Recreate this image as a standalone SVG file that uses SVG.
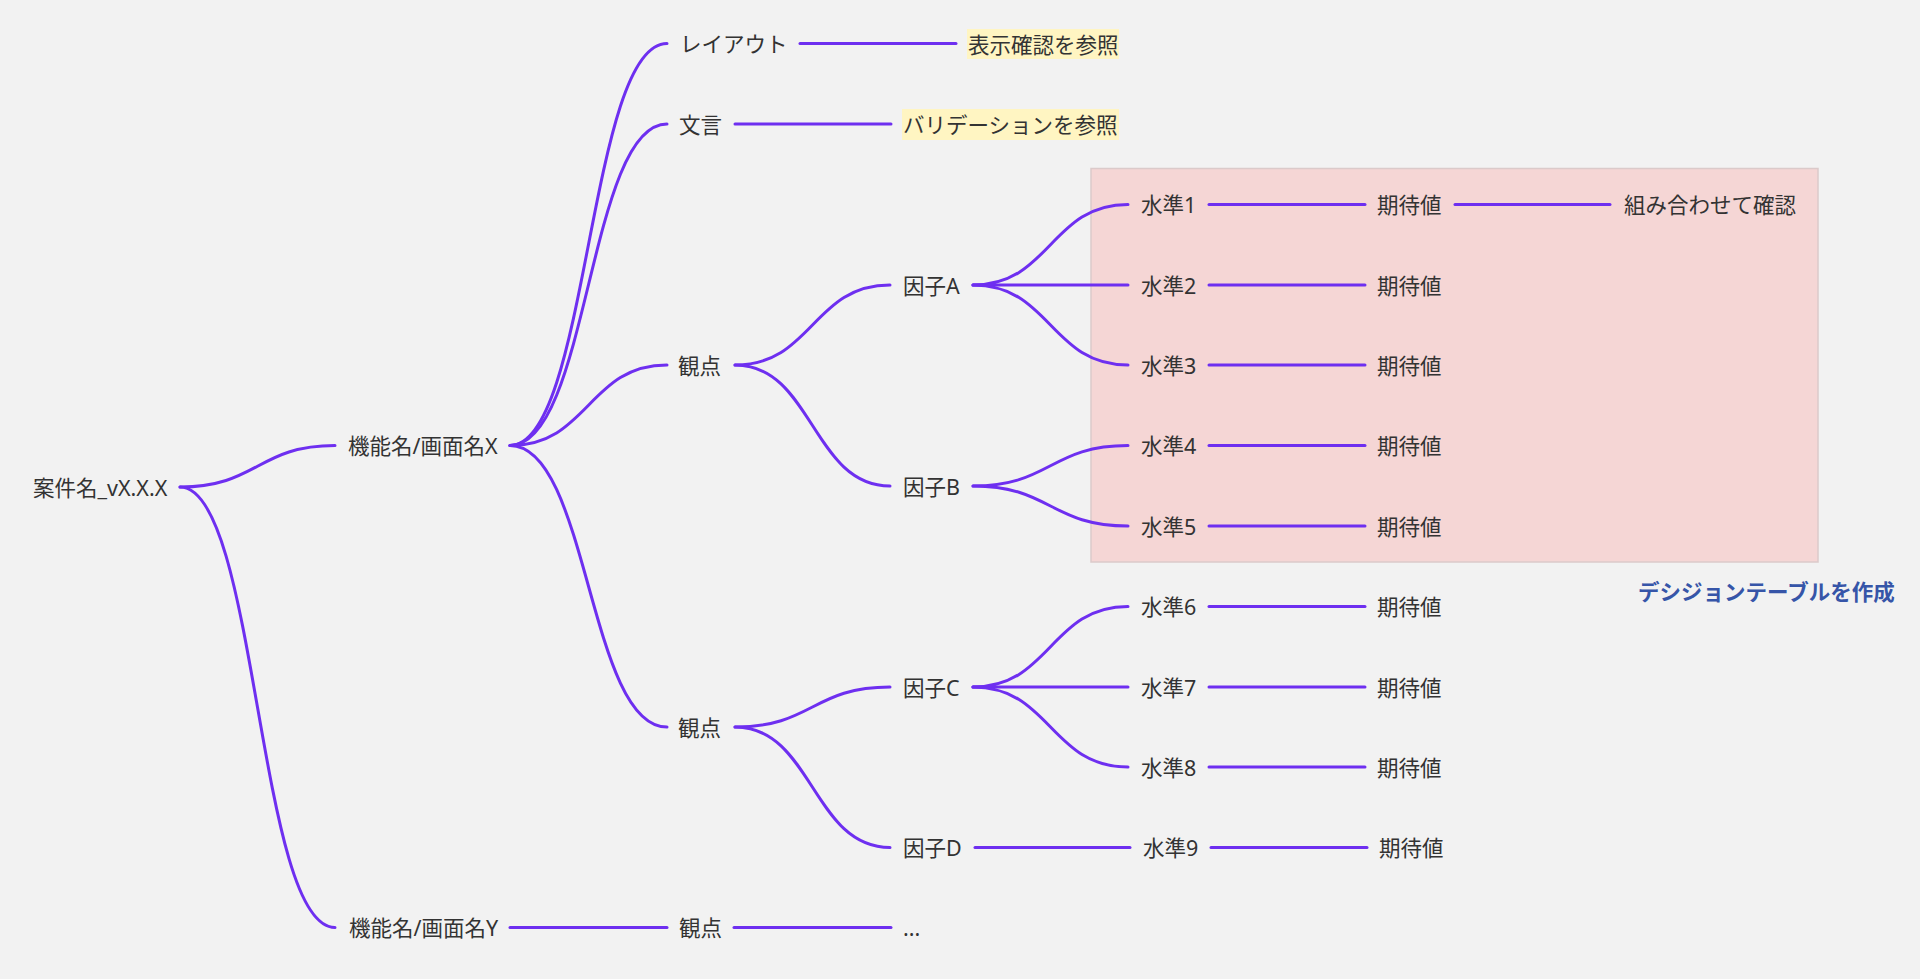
<svg xmlns="http://www.w3.org/2000/svg" width="1920" height="979" viewBox="0 0 1920 979">
<style>
  text { font-family: "Noto Sans", "Noto Sans CJK JP", sans-serif; font-size: 21.5px; fill: #333333; dominant-baseline: central; }
  .conn path { fill: none; stroke: #6e2ff0; stroke-width: 3; stroke-linecap: round; }
  .hl { fill: #fff5c2; }
  .note { font-weight: bold; fill: #3655a8; }
</style>
<rect x="0" y="0" width="1920" height="979" fill="#f2f2f2"/>
<g id="decision-table-area">
  <rect x="1091" y="168.5" width="727" height="393.5" fill="#f5d6d5" stroke="#dbcaca" stroke-width="1.5"/>
</g>
<g id="connectors" class="conn">
  <path d="M180,487 C257.5,487 257.5,445.5 335,445.5"/>
  <path d="M180,487 C257.5,487 257.5,927.5 335,927.5"/>
  <path d="M510,445.5 C588.5,445.5 588.5,43.5 667,43.5"/>
  <path d="M510,445.5 C588.5,445.5 588.5,124 667,124"/>
  <path d="M510,445.5 C588.5,445.5 588.5,365 667,365"/>
  <path d="M510,445.5 C588.5,445.5 588.5,727 667,727"/>
  <path d="M510,927.5 L667,927.5"/>
  <path d="M734,927.5 L891,927.5"/>
  <path d="M800,43.5 L956,43.5"/>
  <path d="M735,124 L891,124"/>
  <path d="M735,365 C812.5,365 812.5,285 890,285"/>
  <path d="M735,365 C812.5,365 812.5,486 890,486"/>
  <path d="M735,727 C812.5,727 812.5,687 890,687"/>
  <path d="M735,727 C812.5,727 812.5,847.5 890,847.5"/>
  <path d="M973,285 C1050.5,285 1050.5,204.5 1128,204.5"/>
  <path d="M973,285 L1128,285"/>
  <path d="M973,285 C1050.5,285 1050.5,365 1128,365"/>
  <path d="M973,486 C1050.5,486 1050.5,445.5 1128,445.5"/>
  <path d="M973,486 C1050.5,486 1050.5,526 1128,526"/>
  <path d="M973,687 C1050.5,687 1050.5,606.5 1128,606.5"/>
  <path d="M973,687 L1128,687"/>
  <path d="M973,687 C1050.5,687 1050.5,767 1128,767"/>
  <path d="M975,847.5 L1130,847.5"/>
  <path d="M1209,204.5 L1365,204.5"/>
  <path d="M1209,285 L1365,285"/>
  <path d="M1209,365 L1365,365"/>
  <path d="M1209,445.5 L1365,445.5"/>
  <path d="M1209,526 L1365,526"/>
  <path d="M1209,606.5 L1365,606.5"/>
  <path d="M1209,687 L1365,687"/>
  <path d="M1209,767 L1365,767"/>
  <path d="M1211,847.5 L1367,847.5"/>
  <path d="M1455,204.5 L1610,204.5"/>
</g>
<g id="root"><text x="33" y="487">案件名_vX.X.X</text></g>
<g id="func-x"><text x="348" y="445.5">機能名/画面名X</text></g>
<g id="func-y"><text x="349" y="927.5">機能名/画面名Y</text></g>
<g id="layout"><text x="680" y="43.5">レイアウト</text></g>
<g id="wording"><text x="679" y="124">文言</text></g>
<g id="viewpoint-1"><text x="678" y="365">観点</text></g>
<g id="viewpoint-2"><text x="678" y="727">観点</text></g>
<g id="viewpoint-3"><text x="679" y="927.5">観点</text></g>
<g id="ref-display"><rect class="hl" x="967" y="29" width="152" height="30"/><text x="968" y="44">表示確認を参照</text></g>
<g id="ref-validation"><rect class="hl" x="902" y="109" width="217" height="31"/><text x="903" y="124.5">バリデーションを参照</text></g>
<g id="factor-a"><text x="903" y="285">因子A</text></g>
<g id="factor-b"><text x="903" y="486">因子B</text></g>
<g id="factor-c"><text x="903" y="687">因子C</text></g>
<g id="factor-d"><text x="903" y="847.5">因子D</text></g>
<g id="ellipsis"><text x="903" y="927.5">...</text></g>
<g id="level-1"><text x="1141" y="204.5">水準1</text></g>
<g id="level-2"><text x="1141" y="285">水準2</text></g>
<g id="level-3"><text x="1141" y="365">水準3</text></g>
<g id="level-4"><text x="1141" y="445.5">水準4</text></g>
<g id="level-5"><text x="1141" y="526">水準5</text></g>
<g id="level-6"><text x="1141" y="606.5">水準6</text></g>
<g id="level-7"><text x="1141" y="687">水準7</text></g>
<g id="level-8"><text x="1141" y="767">水準8</text></g>
<g id="level-9"><text x="1143" y="847.5">水準9</text></g>
<g id="expected-1"><text x="1377" y="204.5">期待値</text></g>
<g id="expected-2"><text x="1377" y="285">期待値</text></g>
<g id="expected-3"><text x="1377" y="365">期待値</text></g>
<g id="expected-4"><text x="1377" y="445.5">期待値</text></g>
<g id="expected-5"><text x="1377" y="526">期待値</text></g>
<g id="expected-6"><text x="1377" y="606.5">期待値</text></g>
<g id="expected-7"><text x="1377" y="687">期待値</text></g>
<g id="expected-8"><text x="1377" y="767">期待値</text></g>
<g id="expected-9"><text x="1379" y="847.5">期待値</text></g>
<g id="combine"><text x="1624" y="204.5">組み合わせて確認</text></g>
<g id="decision-table-label"><text class="note" x="1638" y="591.5">デシジョンテーブルを作成</text></g>
</svg>
